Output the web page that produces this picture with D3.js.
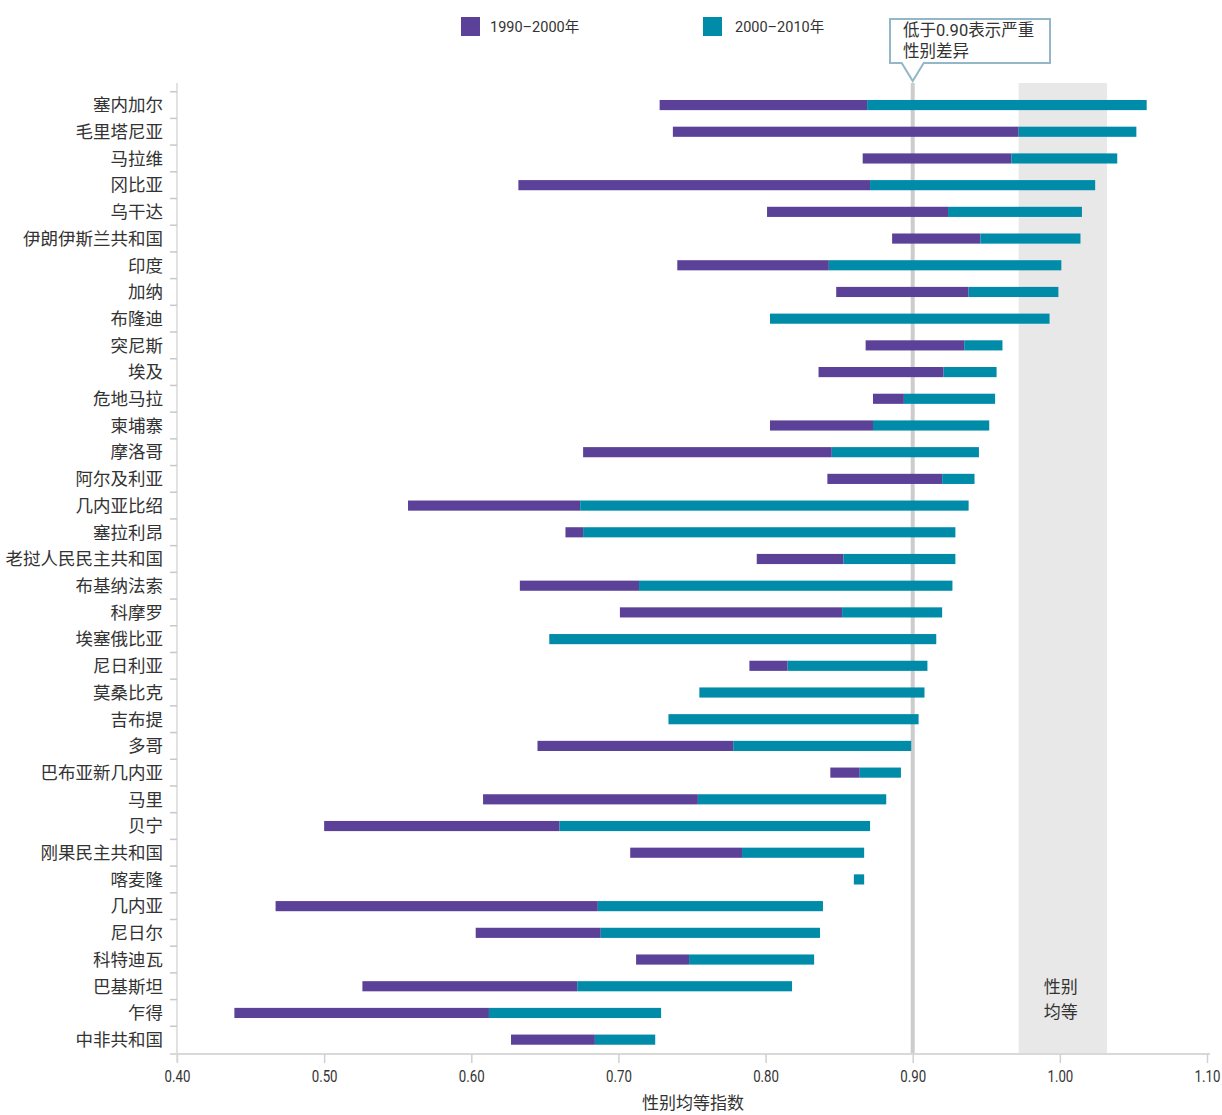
<!DOCTYPE html>
<html><head><meta charset="utf-8">
<script src="https://cdn.jsdelivr.net/npm/d3@7"></script>
<style>
body{margin:0;background:#fff;}
text{font-family:Roboto,"Noto Sans CJK SC",sans-serif;fill:#333;}
.cjk{font-family:"Noto Sans CJK SC",Roboto,sans-serif;}
</style></head>
<body><svg id="c" width="1222" height="1115"></svg>
<script>
const countries = ["塞内加尔","毛里塔尼亚","马拉维","冈比亚","乌干达","伊朗伊斯兰共和国","印度","加纳","布隆迪","突尼斯","埃及","危地马拉","柬埔寨","摩洛哥","阿尔及利亚","几内亚比绍","塞拉利昂","老挝人民民主共和国","布基纳法索","科摩罗","埃塞俄比亚","尼日利亚","莫桑比克","吉布提","多哥","巴布亚新几内亚","马里","贝宁","刚果民主共和国","喀麦隆","几内亚","尼日尔","科特迪瓦","巴基斯坦","乍得","中非共和国"];
const gpi1990 = [0.728,0.737,0.866,0.632,0.801,0.886,0.740,0.848,null,0.868,0.836,0.873,0.803,0.676,0.842,0.557,0.664,0.794,0.633,0.701,null,0.789,null,null,0.645,0.844,0.608,0.500,0.708,null,0.467,0.603,0.712,0.526,0.439,0.627];
const gpi2000 = [0.869,0.972,0.967,0.871,0.924,0.946,0.843,0.938,0.803,0.935,0.921,0.894,0.873,0.845,0.920,0.674,0.676,0.853,0.714,0.852,0.653,0.815,0.755,0.734,0.778,0.864,0.754,0.660,0.784,0.860,0.686,0.688,0.748,0.672,0.612,0.684];
const gpi2010 = [1.059,1.052,1.039,1.024,1.015,1.014,1.001,0.999,0.993,0.961,0.957,0.956,0.952,0.945,0.942,0.938,0.929,0.929,0.927,0.920,0.916,0.910,0.908,0.904,0.899,0.892,0.882,0.871,0.867,0.867,0.839,0.837,0.833,0.818,0.729,0.725];
const xTicks = [0.40,0.50,0.60,0.70,0.80,0.90,1.00,1.10];
const legendLabels = ["1990–2000年","2000–2010年"];
const colors = ["#5c4199","#008ca9"];
const parityBand = [0.972,1.032];
const threshold = 0.90;
const calloutLines = ["低于0.90表示严重","性别差异"];
const parityLabel = ["性别","均等"];
const xTitle = "性别均等指数";

const svg = d3.select("#c");
const plotTop = 83, plotBottom = 1053;
const x = d3.scaleLinear().domain([0.40,1.10]).range([177,1207]);
const y = d3.scaleBand().domain(countries).range([91.7,plotBottom]).padding(0);
const barH = y.bandwidth()*0.38;

// parity band
svg.append("rect").attr("x",x(parityBand[0])).attr("y",plotTop)
  .attr("width",x(parityBand[1])-x(parityBand[0])).attr("height",plotBottom-plotTop).attr("fill","#e8e8e8");
svg.append("g").selectAll("text").data(parityLabel).join("text").attr("class","cjk")
  .attr("x",x(1.0)+1).attr("y",(d,i)=>987+i*25).attr("dy","0.35em").attr("text-anchor","middle")
  .attr("font-size",17).text(d=>d);

// threshold line
svg.append("line").attr("x1",x(threshold)).attr("x2",x(threshold)).attr("y1",plotTop).attr("y2",plotBottom)
  .attr("stroke","#cccccc").attr("stroke-width",4);

// axes
const xAxis = svg.append("g").attr("transform",`translate(0,${plotBottom+1})`)
  .call(d3.axisBottom(x).tickValues(xTicks).tickFormat(d3.format(".2f")).tickSize(9).tickSizeOuter(0));
xAxis.select(".domain").attr("stroke","#d9d9d9").attr("stroke-width",2).attr("d",`M170,0H1210`);
xAxis.selectAll(".tick line").attr("stroke","#d0d0d0").attr("stroke-width",1.5);
xAxis.selectAll(".tick text").attr("font-size",17).attr("fill","#333").attr("y",16)
  .attr("font-family","Roboto,sans-serif").attr("transform","scale(0.78,1)");

svg.append("line").attr("x1",x(0.40)).attr("x2",x(0.40)).attr("y1",plotTop).attr("y2",plotBottom+9)
  .attr("stroke","#d9d9d9").attr("stroke-width",1.5);
const yb = countries.map(c=>y(c));
svg.append("g").selectAll("line").data(yb).join("line")
  .attr("x1",170).attr("x2",177).attr("y1",d=>d).attr("y2",d=>d)
  .attr("stroke","#c8c8c8").attr("stroke-width",1.5);

svg.append("g").selectAll("text").data(countries).join("text").attr("class","cjk")
  .attr("x",163).attr("y",d=>y(d)+y.bandwidth()/2).attr("dy","0.36em")
  .attr("text-anchor","end").attr("font-size",17.5).attr("fill","#231f20").text(d=>d);

// bars
const rows = countries.map((c,i)=>({c, a:gpi1990[i], b:gpi2000[i], e:gpi2010[i]}));
svg.append("g").selectAll("rect").data(rows.filter(d=>d.a!==null)).join("rect")
  .attr("x",d=>x(d.a)).attr("width",d=>x(d.b)-x(d.a))
  .attr("y",d=>y(d.c)+y.bandwidth()/2-barH/2).attr("height",barH).attr("fill",colors[0]);
svg.append("g").selectAll("rect").data(rows).join("rect")
  .attr("x",d=>x(d.b)).attr("width",d=>x(d.e)-x(d.b))
  .attr("y",d=>y(d.c)+y.bandwidth()/2-barH/2).attr("height",barH).attr("fill",colors[1]);

// x title
svg.append("text").attr("class","cjk").attr("x",693).attr("y",1103).attr("dy","0.35em")
  .attr("text-anchor","middle").attr("font-size",17).text(xTitle);

// legend
const lg = svg.append("g").selectAll("g").data(legendLabels).join("g")
  .attr("transform",(d,i)=>`translate(${[461,703][i]},17)`);
lg.append("rect").attr("width",19).attr("height",19).attr("fill",(d,i)=>colors[i]);
lg.append("text").attr("x",(d,i)=>[29,32][i]).attr("y",9.5).attr("dy","0.35em").attr("font-size",14.5).text(d=>d);

// callout
const tx = x(threshold);
svg.append("path")
  .attr("d",`M890,19H1050V63H${tx+11}L${tx},81L${tx-11},63H890Z`)
  .attr("fill","#fff").attr("stroke","#93b6c9").attr("stroke-width",2);
svg.append("g").selectAll("text").data(calloutLines).join("text")
  .attr("x",903).attr("y",(d,i)=>30+i*21).attr("dy","0.35em").attr("font-size",16.5).attr("fill","#231f20")
  .text(d=>d);
</script></body></html>
